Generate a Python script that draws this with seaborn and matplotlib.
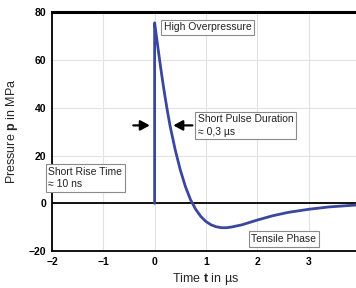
import matplotlib
matplotlib.use("Agg")
import matplotlib.pyplot as plt
import numpy as np
import pandas as pd
import seaborn as sns
from matplotlib.ticker import MultipleLocator

sns.set_style("white")
plt.rcParams["font.family"] = ["Liberation Sans", "DejaVu Sans"]
plt.rcParams["mathtext.fontset"] = "custom"
plt.rcParams["mathtext.bf"] = "Liberation Sans:bold"
plt.rcParams["mathtext.rm"] = "Liberation Sans"

# pressure pulse (time in us, pressure in MPa)
time_us = [0.0, 0.0, 0.05, 0.1, 0.15, 0.2, 0.25, 0.3, 0.4, 0.5, 0.6, 0.7, 0.8,
           0.9, 1.0, 1.1, 1.2, 1.3, 1.4, 1.5, 1.7, 2.0, 2.3, 2.6, 3.0, 3.4,
           3.8, 4.0]
pressure_mpa = [0.0, 75.5, 67.5, 59.5, 52.0, 45.0, 38.5, 32.5, 22.5, 14.0, 7.0,
                1.5, -2.5, -5.5, -7.6, -9.0, -9.8, -10.2, -10.2, -9.9, -9.0,
                -7.0, -5.2, -3.8, -2.5, -1.5, -0.9, -0.6]

df = pd.DataFrame({"t": time_us, "p": pressure_mpa})

line_color = "#3b469e"

fig = plt.figure(figsize=(3.56, 2.88), dpi=100)
ax = fig.add_axes([0.146, 0.128, 0.865, 0.830])

ax.grid(True, color="#e2e2e2", linewidth=0.8, zorder=0)
ax.axhline(0, color="black", linewidth=1.3, zorder=1)

sns.lineplot(data=df, x="t", y="p", sort=False, estimator=None,
             color=line_color, linewidth=2.0, ax=ax, zorder=3)

ax.set_xlim(-2, 4)
ax.set_ylim(-20, 80)
ax.xaxis.set_major_locator(MultipleLocator(1))
ax.xaxis.set_minor_locator(MultipleLocator(0.5))
ax.yaxis.set_major_locator(MultipleLocator(20))
ax.yaxis.set_minor_locator(MultipleLocator(10))
ax.tick_params(which="both", direction="inout", colors="black",
               labelsize=7.5, pad=1.5)
ax.tick_params(which="major", length=5, width=1.1)
ax.tick_params(which="minor", length=3, width=1.0)
for lab in ax.get_xticklabels() + ax.get_yticklabels():
    lab.set_fontweight("bold")

for side in ["left", "bottom"]:
    ax.spines[side].set_color("black")
    ax.spines[side].set_linewidth(1.3)
ax.spines["top"].set_color("black")
ax.spines["top"].set_linewidth(2.2)
ax.spines["right"].set_visible(False)

ax.set_xlabel(r"Time $\mathbf{t}$ in µs", fontsize=9)
ax.set_ylabel(r"Pressure $\mathbf{p}$ in MPa", fontsize=9)
ax.xaxis.set_label_coords(0.5, -0.085)
ax.yaxis.set_label_coords(-0.105, 0.5)

box = dict(boxstyle="square,pad=0.25", facecolor="white",
           edgecolor="#8a8a8a", linewidth=0.8)
txt = dict(fontsize=7.5, color="#222222", bbox=box, zorder=5)

ax.text(0.18, 73.6, "High Overpressure", va="center", ha="left", **txt)
ax.text(0.84, 32.6, "Short Pulse Duration\n≈ 0,3 µs", va="center",
        ha="left", linespacing=1.3, **txt)
ax.text(-2.07, 10.5, "Short Rise Time\n≈ 10 ns", va="center", ha="left",
        linespacing=1.3, clip_on=False, **txt)
ax.text(1.88, -14.9, "Tensile Phase", va="center", ha="left", **txt)

arrow = dict(arrowstyle="-|>,head_length=0.55,head_width=0.3",
             color="black", linewidth=1.6)
ax.annotate("", xy=(-0.04, 32.6), xytext=(-0.47, 32.6), arrowprops=arrow,
            zorder=6)
ax.annotate("", xy=(0.31, 32.6), xytext=(0.79, 32.6), arrowprops=arrow,
            zorder=6)

fig.savefig("out.png", dpi=100)
